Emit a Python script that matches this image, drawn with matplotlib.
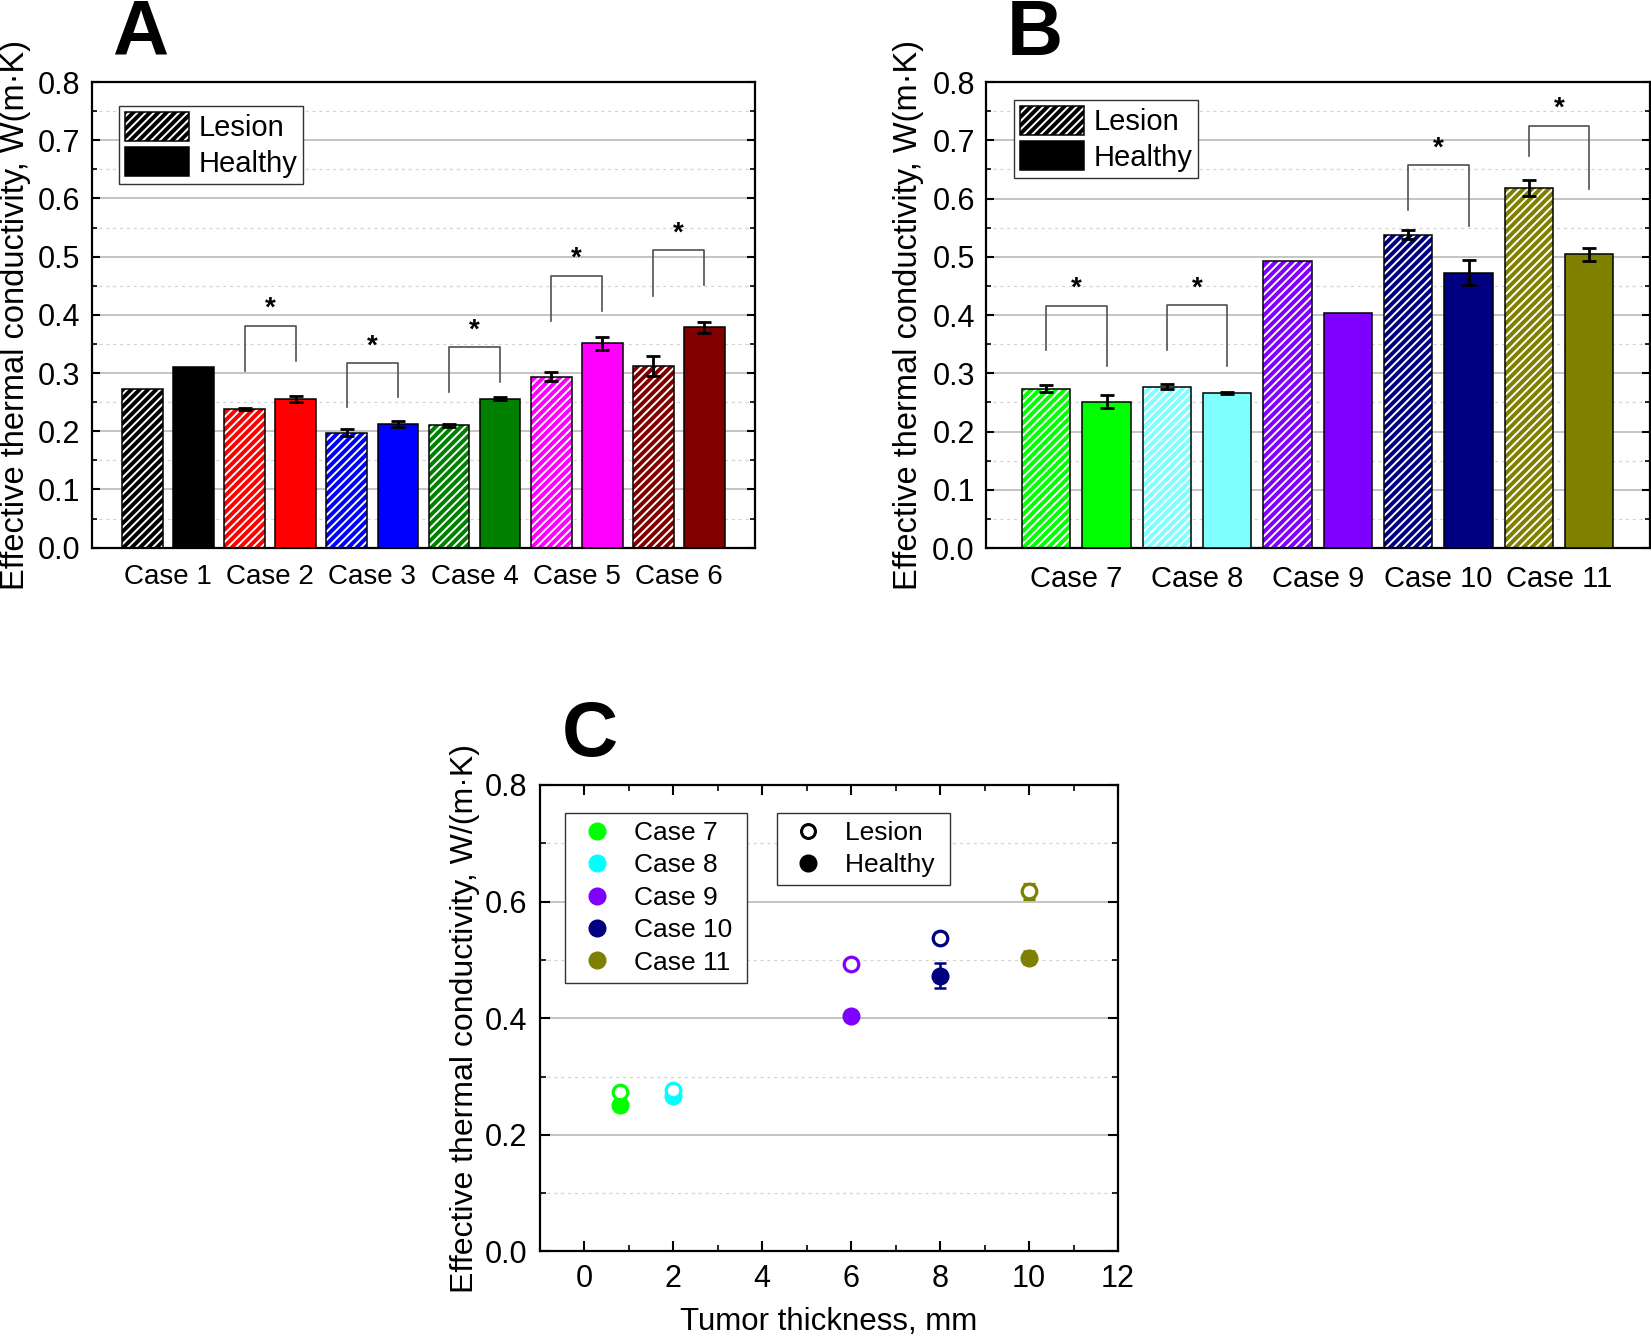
import numpy as np
import matplotlib
matplotlib.use("Agg")
import matplotlib.pyplot as plt
from matplotlib.patches import Patch
from matplotlib.lines import Line2D
from matplotlib.ticker import MultipleLocator, FormatStrFormatter

plt.rcParams['font.family'] = ['Liberation Sans', 'DejaVu Sans']
plt.rcParams['hatch.linewidth'] = 1.4

# ---- panel A data
cases_a = ["Case 1", "Case 2", "Case 3", "Case 4", "Case 5", "Case 6"]
lesion_a = [0.272, 0.238, 0.197, 0.210, 0.294, 0.312]
lesion_a_err = [0.0, 0.002, 0.006, 0.003, 0.0085, 0.017]
healthy_a = [0.310, 0.255, 0.212, 0.256, 0.351, 0.379]
healthy_a_err = [0.0, 0.0056, 0.005, 0.002, 0.011, 0.0095]
colors_a = ["#000000", "#ff0000", "#0000ff", "#008000", "#ff00ff", "#800000"]
# significance brackets: case index, left leg bottom, top, right leg bottom
sig_a = [(1, 0.304, 0.381, 0.321), (2, 0.241, 0.317, 0.258), (3, 0.268, 0.344, 0.285),
         (4, 0.389, 0.467, 0.407), (5, 0.433, 0.511, 0.452)]

# ---- panel B data
cases_b = ["Case 7", "Case 8", "Case 9", "Case 10", "Case 11"]
lesion_b = [0.2735, 0.277, 0.493, 0.538, 0.618]
lesion_b_err = [0.006, 0.004, 0.0, 0.008, 0.013]
healthy_b = [0.251, 0.266, 0.404, 0.473, 0.504]
healthy_b_err = [0.011, 0.002, 0.0, 0.0217, 0.0105]
colors_b = ["#00ff00", "#80ffff", "#8000ff", "#000080", "#808000"]
sig_b = [(0, 0.340, 0.4155, 0.312), (1, 0.340, 0.417, 0.312),
         (3, 0.580, 0.657, 0.552), (4, 0.673, 0.7245, 0.616)]

# ---- panel C data
thickness_c = [0.8, 2, 6, 8, 10]
colors_c = ["#00ff00", "#00ffff", "#8000ff", "#000080", "#808000"]

YLABEL = "Effective thermal conductivity, W(m\u00b7K)"
GRID_MAJ = "#b4b4b4"
GRID_MIN = "#d4d4d4"


def style_axes(ax):
    for s in ax.spines.values():
        s.set_linewidth(1.6)
    ax.set_ylim(0, 0.8)
    ax.yaxis.set_major_locator(MultipleLocator(0.1))
    ax.yaxis.set_minor_locator(MultipleLocator(0.05))
    ax.yaxis.set_major_formatter(FormatStrFormatter("%.1f"))
    ax.tick_params(axis="y", which="both", direction="in", left=True, right=True,
                   labelsize=22, pad=8)
    ax.tick_params(axis="y", which="major", length=6, width=1.5)
    ax.tick_params(axis="y", which="minor", length=3.5, width=1.2)
    ax.grid(True, axis="y", which="major", color=GRID_MAJ, lw=1.1)
    ax.grid(True, axis="y", which="minor", color=GRID_MIN, lw=0.9, ls=(0, (2.5, 3)))
    ax.set_axisbelow(True)


def bar_panel(ax, cases, lesion, lesion_err, healthy, healthy_err, colors, sig, xlabel_size):
    x = np.arange(1, len(cases) + 1)
    xl = x - 0.25
    xh = x + 0.25
    # lesion: colour with white hatch, then black outline on top
    ax.bar(xl, lesion, 0.4, color=colors, edgecolor="white", hatch="////", lw=0, zorder=2)
    ax.bar(xl, lesion, 0.4, fill=False, edgecolor="black", lw=1.1, zorder=3)
    ax.bar(xh, healthy, 0.4, color=colors, edgecolor="black", lw=1.1, zorder=3)

    for xs, vals, errs in ((xl, lesion, lesion_err), (xh, healthy, healthy_err)):
        vals = np.array(vals)
        errs = np.array(errs)
        m = errs > 0
        ax.errorbar(xs[m], vals[m], yerr=errs[m], fmt="none", ecolor="black",
                    elinewidth=2, capsize=5, capthick=2, zorder=4)

    for i, yl, yt, yr in sig:
        x0, x1 = xl[i], xh[i]
        ax.plot([x0, x0, x1, x1], [yl, yt, yt, yr], color="#505050", lw=1.2, zorder=4)
        ax.text((x0 + x1) / 2, yt + 0.017, "*", ha="center", va="baseline",
                fontsize=20, fontweight="bold")

    ax.set_xlim(0.25, len(cases) + 0.75)
    ax.set_xticks(x)
    ax.set_xticklabels(cases, fontsize=xlabel_size)
    ax.tick_params(axis="x", length=0, pad=12)
    style_axes(ax)
    ax.set_ylabel(YLABEL, fontsize=23.5)

    h_les = (Patch(facecolor="black", edgecolor="white", hatch="////", lw=0),
             Patch(fill=False, edgecolor="black", lw=1.1))
    h_hea = Patch(facecolor="black", edgecolor="black", lw=1.1)
    return [h_les, h_hea]


def frame(leg):
    leg.get_frame().set_edgecolor("#333333")
    leg.get_frame().set_linewidth(1.0)


fig = plt.figure(figsize=(16.51, 13.40), dpi=100)

ax_a = fig.add_axes([0.0555, 0.5913, 0.4020, 0.3475])
handles = bar_panel(ax_a, cases_a, lesion_a, lesion_a_err, healthy_a, healthy_a_err,
                    colors_a, sig_a, 20)
ax_a.yaxis.set_label_coords(-0.091, 0.5)
leg = ax_a.legend(handles, ["Lesion", "Healthy"], loc="upper left",
                  bbox_to_anchor=(0.041, 0.948), borderaxespad=0, fontsize=21,
                  handlelength=2.2, handleheight=1.15, labelspacing=0.17,
                  borderpad=0.2, handletextpad=0.33, fancybox=False, framealpha=1)
frame(leg)

ax_b = fig.add_axes([0.5972, 0.5910, 0.4019, 0.3478])
handles = bar_panel(ax_b, cases_b, lesion_b, lesion_b_err, healthy_b, healthy_b_err,
                    colors_b, sig_b, 21)
ax_b.yaxis.set_label_coords(-0.093, 0.5)
leg = ax_b.legend(handles, ["Lesion", "Healthy"], loc="upper left",
                  bbox_to_anchor=(0.042, 0.961), borderaxespad=0, fontsize=21,
                  handlelength=2.2, handleheight=1.15, labelspacing=0.17,
                  borderpad=0.2, handletextpad=0.33, fancybox=False, framealpha=1)
frame(leg)

# ---- panel C
ax_c = fig.add_axes([0.3268, 0.0661, 0.3504, 0.3481])
for i, c in enumerate(colors_c):
    ax_c.errorbar(thickness_c[i], healthy_b[i], yerr=healthy_b_err[i] or None, fmt="o",
                  color=c, ms=12, ecolor=c, elinewidth=1.8, capsize=4, capthick=1.8, zorder=3)
    ax_c.errorbar(thickness_c[i], lesion_b[i], yerr=lesion_b_err[i] or None, fmt="o",
                  color=c, mfc="white", mec=c, mew=2.3, ms=10.5, ecolor=c,
                  elinewidth=1.8, capsize=4, capthick=1.8, zorder=4)

for s in ax_c.spines.values():
    s.set_linewidth(1.6)
ax_c.set_xlim(-1, 12)
ax_c.set_ylim(0, 0.8)
ax_c.xaxis.set_major_locator(MultipleLocator(2))
ax_c.xaxis.set_minor_locator(MultipleLocator(1))
ax_c.yaxis.set_major_locator(MultipleLocator(0.2))
ax_c.yaxis.set_minor_locator(MultipleLocator(0.1))
ax_c.yaxis.set_major_formatter(FormatStrFormatter("%.1f"))
ax_c.tick_params(which="both", direction="in", top=True, right=True, labelsize=22, pad=9)
ax_c.tick_params(which="major", length=7, width=1.5)
ax_c.tick_params(which="minor", length=4, width=1.2)
ax_c.grid(True, axis="y", which="major", color=GRID_MAJ, lw=1.1)
ax_c.grid(True, axis="y", which="minor", color=GRID_MIN, lw=0.9, ls=(0, (2.5, 3)))
ax_c.set_axisbelow(True)
ax_c.set_ylabel("Effective thermal conductivity, W/(m\u00b7K)", fontsize=23)
ax_c.yaxis.set_label_coords(-0.103, 0.5)
ax_c.set_xlabel("Tumor thickness, mm", fontsize=22.5)
ax_c.xaxis.set_label_coords(0.5, -0.12)

# trailing space gives the wider right margin seen in the original legends
case_handles = [Line2D([], [], ls="none", marker="o", ms=12, color=c, mec=c) for c in colors_c]
leg1 = ax_c.legend(case_handles, [c + " " for c in cases_b], loc="upper left",
                   bbox_to_anchor=(0.044, 0.940), borderaxespad=0, fontsize=19,
                   handlelength=1.8, handletextpad=0.5, labelspacing=0.32, borderpad=0.3,
                   fancybox=False, framealpha=1)
frame(leg1)
ax_c.add_artist(leg1)
type_handles = [Line2D([], [], ls="none", marker="o", ms=10, mfc="white", mec="black", mew=2.2),
                Line2D([], [], ls="none", marker="o", ms=12, color="black")]
leg2 = ax_c.legend(type_handles, ["Lesion ", "Healthy "], loc="upper left",
                   bbox_to_anchor=(0.41, 0.940), borderaxespad=0, fontsize=19,
                   handlelength=1.8, handletextpad=0.5, labelspacing=0.32, borderpad=0.3,
                   fancybox=False, framealpha=1)
frame(leg2)

# panel letters
for x, y, s in ((0.068, 0.959, "A"), (0.610, 0.959, "B"), (0.340, 0.4358, "C")):
    fig.text(x, y, s, fontsize=56, fontweight="bold", va="baseline", ha="left")

fig.savefig("out.png", dpi=100)
